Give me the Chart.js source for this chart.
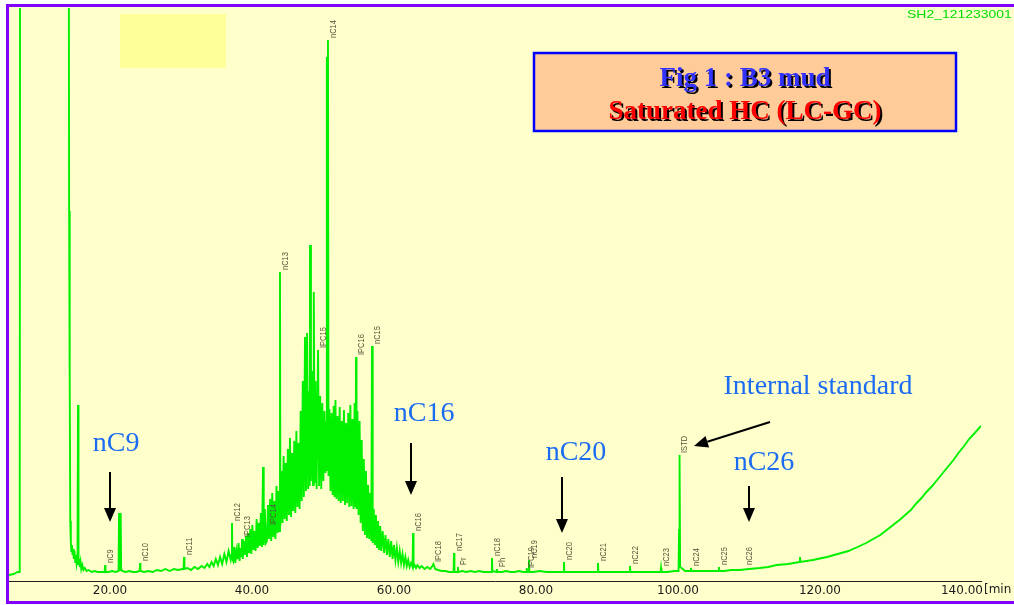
<!DOCTYPE html>
<html>
<head>
<meta charset="utf-8">
<title>Fig 1 : B3 mud - Saturated HC (LC-GC)</title>
<script src="https://cdn.jsdelivr.net/npm/chart.js@4.4.1/dist/chart.umd.min.js"></script>
<style>
  html, body { margin: 0; padding: 0; background: #fff; }
  #chromatogram { display: block; }
</style>
</head>
<body>
<canvas id="chromatogram" width="1014" height="605"></canvas>
<script>
// [retention time (min), detector response]
const solventTrace = [
    [5.77, 6], [6.4, 7], [7.0, 9], [7.28, 9], [7.33, 700], [14.18, 700], [14.24, 370], [14.32, 200],
    [14.40, 60], [14.48, 38], [14.56, 30], [14.64, 36], [14.72, 26], [14.80, 32], [14.90, 22], [15.00, 30],
    [15.10, 19], [15.20, 26], [15.30, 17], [15.42, 22], [15.49, 176], [15.56, 16], [15.65, 22], [15.75, 14],
    [15.85, 19], [15.95, 12], [16.10, 16], [16.25, 11], [16.45, 13], [16.70, 10], [17.0, 11]
];

const earlyTrace = [
    [17.4, 9], [17.8, 10], [18.3, 9], [18.8, 9], [19.24, 9], [19.30, 16], [19.36, 9], [19.8, 9],
    [20.3, 10], [20.8, 9], [21.20, 10], [21.27, 68], [21.34, 14], [21.43, 11], [21.50, 68], [21.57, 12],
    [21.70, 10], [22.2, 9], [22.7, 10], [23.2, 9], [23.7, 9], [24.17, 10], [24.23, 18], [24.29, 10],
    [24.8, 9], [25.4, 10], [26.0, 9], [26.6, 11], [27.2, 10], [27.8, 12], [28.4, 10], [29.0, 12],
    [29.6, 11], [30.2, 12], [30.36, 12], [30.42, 24], [30.48, 12], [30.9, 13], [31.4, 11], [31.9, 14],
    [32.4, 12], [32.9, 15], [33.3, 13], [33.7, 17], [34.0, 14], [34.3, 19], [34.6, 15], [34.9, 22],
    [35.2, 16], [35.5, 24], [35.8, 17], [36.1, 27], [36.4, 19], [36.7, 30], [37.0, 21], [37.12, 26],
    [37.18, 58], [37.24, 22]
];

const humpTrace = [
    [37.35, 20], [37.5, 34], [37.65, 18], [37.8, 30], [37.95, 22], [38.1, 38], [38.25, 20], [38.4, 33],
    [38.52, 24], [38.6, 42], [38.7, 22], [38.85, 40], [39.0, 26], [39.15, 45], [39.3, 24], [39.45, 48],
    [39.6, 28], [39.75, 52], [39.9, 27], [40.05, 56], [40.2, 31], [40.35, 50], [40.5, 30], [40.65, 62],
    [40.8, 33], [40.95, 58], [41.1, 35], [41.25, 68], [41.4, 34], [41.55, 114], [41.65, 36], [41.8, 72],
    [41.95, 38], [42.1, 40], [42.25, 76], [42.4, 42], [42.55, 82], [42.7, 40], [42.85, 88], [43.0, 44],
    [43.15, 80], [43.3, 42], [43.45, 95], [43.6, 48], [43.75, 90], [43.88, 50], [43.94, 309], [44.0, 55],
    [44.15, 110], [44.3, 58], [44.45, 125], [44.6, 62], [44.75, 118], [44.9, 60], [45.05, 132], [45.2, 66],
    [45.35, 143], [45.5, 64], [45.65, 128], [45.8, 70], [45.95, 140], [46.1, 68], [46.25, 150], [46.4, 74],
    [46.55, 138], [46.7, 72], [46.85, 170], [47.0, 80], [47.15, 200], [47.3, 84], [47.46, 244], [47.6, 90],
    [47.75, 248], [47.9, 92], [48.05, 190], [48.12, 95], [48.17, 336], [48.3, 100], [48.45, 210], [48.59, 96],
    [48.70, 289], [48.82, 98], [48.95, 200], [49.1, 92], [49.3, 231], [49.45, 95], [49.6, 185], [49.75, 92],
    [49.9, 178], [50.05, 100], [50.2, 170], [50.35, 108], [50.48, 160], [50.52, 110], [50.56, 524], [50.63, 200],
    [50.70, 541], [50.78, 105], [50.9, 172], [51.05, 90], [51.2, 168], [51.35, 86], [51.5, 175], [51.62, 84],
    [51.75, 181], [51.9, 82], [52.05, 165], [52.2, 80], [52.35, 174], [52.5, 78], [52.65, 160], [52.8, 80],
    [52.95, 171], [53.1, 76], [53.25, 158], [53.4, 78], [53.55, 168], [53.7, 74], [53.85, 176], [54.0, 75],
    [54.15, 162], [54.3, 72], [54.45, 178], [54.58, 74], [54.65, 224], [54.72, 72], [54.85, 170], [55.0, 66],
    [55.15, 160], [55.3, 58], [55.45, 141], [55.6, 50], [55.75, 122], [55.9, 46], [56.05, 110], [56.2, 43],
    [56.35, 96], [56.5, 42], [56.65, 88], [56.8, 40], [56.90, 235], [57.0, 38], [57.15, 72], [57.3, 36],
    [57.45, 66], [57.6, 33], [57.75, 60], [57.9, 31], [58.05, 55], [58.2, 30], [58.4, 50], [58.6, 28],
    [58.8, 46], [59.0, 26], [59.2, 42], [59.4, 24], [59.6, 40], [59.8, 22], [60.0, 36], [60.2, 21],
    [60.4, 33], [60.6, 19], [60.8, 30], [61.0, 18], [61.2, 27], [61.4, 16], [61.6, 24], [61.8, 15],
    [62.0, 21], [62.2, 14], [62.4, 18], [62.62, 14], [62.68, 48], [62.75, 14], [62.9, 16], [63.1, 13]
];

const lateTrace = [
    [63.3, 16], [63.6, 13], [63.9, 15], [64.3, 12], [64.7, 14], [65.1, 12], [65.4, 15], [65.55, 17],
    [65.8, 12], [66.2, 11], [66.7, 10], [67.2, 10], [67.8, 9], [68.39, 9], [68.45, 28], [68.51, 9],
    [68.95, 9], [69.00, 14], [69.05, 9], [69.6, 10], [70.2, 9], [70.8, 10], [71.4, 9], [72.0, 10],
    [72.6, 9], [73.2, 9], [73.74, 9], [73.80, 23], [73.86, 10], [74.45, 9], [74.50, 12], [74.55, 9],
    [75.2, 9], [75.8, 10], [76.4, 9], [77.0, 9], [77.6, 10], [78.2, 9], [78.65, 9], [78.70, 13],
    [78.75, 9], [78.95, 9], [79.01, 21], [79.07, 9], [79.6, 9], [80.5, 10], [81.5, 9], [82.5, 9],
    [83.5, 9], [83.88, 9], [83.94, 19], [84.00, 9], [85.0, 9], [86.0, 9], [87.0, 9], [88.0, 9],
    [88.67, 9], [88.73, 18], [88.79, 9], [90.0, 9], [91.0, 9], [92.0, 9], [93.18, 9], [93.24, 15],
    [93.30, 9], [94.5, 9], [95.5, 9], [96.5, 9], [97.55, 9], [97.61, 13], [97.67, 9], [98.5, 9],
    [99.5, 10], [100.08, 10], [100.15, 51], [100.22, 126], [100.30, 14], [100.5, 13], [101.0, 10], [101.77, 10],
    [101.83, 13], [101.89, 10], [103.0, 10], [104.0, 10], [105.0, 10], [105.71, 10], [105.77, 14], [105.83, 10],
    [106.5, 10], [107.5, 11], [108.7, 11], [110.0, 12], [111.5, 13], [112.7, 14], [113.9, 16], [115.5, 17],
    [117.12, 19], [117.18, 24], [117.24, 19], [119.0, 21], [121.0, 24], [122.5, 27], [124.0, 30], [125.3, 34],
    [126.5, 38], [127.5, 42], [128.5, 46], [129.4, 51], [130.3, 56], [131.2, 61], [132.0, 66], [132.8, 71],
    [133.5, 77], [134.3, 83], [135.0, 89], [135.8, 95], [136.5, 101], [137.3, 108], [138.0, 114], [138.8, 121],
    [139.5, 128], [140.3, 135], [141.0, 142], [141.8, 148], [142.68, 155]
];

const tickValues = [20, 40, 60, 80, 100, 120, 140];

// integrator peak labels
const peakNames = ['nC9', 'nC10', 'nC11', 'nC12', 'IPC13', 'IPC14', 'nC13', 'IPC15', 'nC14', 'IPC16', 'nC15',
    'nC16', 'IPC18', 'nC17', 'Pr', 'nC18', 'Ph', 'IPC19', 'nC19', 'nC20', 'nC21', 'nC22', 'nC23', 'ISTD',
    'nC24', 'nC25', 'nC26'];
const peakTimes = [19.30, 24.23, 30.42, 37.18, 38.60, 42.25, 43.94, 49.30, 50.70, 54.65, 56.90,
    62.68, 65.55, 68.45, 69.00, 73.80, 74.50, 78.70, 79.01, 83.94, 88.73, 93.24, 97.61, 100.22,
    101.83, 105.77, 109.40];
const peakTops = [16, 18, 24, 58, 42, 54, 309, 231, 541, 224, 235,
    48, 17, 28, 14, 23, 12, 11, 21, 19, 18, 15, 13, 126,
    13, 14, 14];

// hand-written notes on the slide (data coordinates)
const callouts = [
    { text: 'nC9', at: [20.85, 137], from: [20.0, 109], to: [20.0, 59] },
    { text: 'nC16', at: [64.23, 167], from: [62.39, 138], to: [62.39, 86] },
    { text: 'nC20', at: [85.63, 128], from: [83.66, 104], to: [83.66, 48] },
    { text: 'Internal standard', at: [119.72, 194], from: [112.96, 159], to: [102.25, 135] },
    { text: 'nC26', at: [112.11, 118], from: [110.0, 95], to: [110.0, 59] }
];

class ChromatogramChart {
    constructor(canvasId) {
        this.canvas = document.getElementById(canvasId);
        this.init();
    }

    init() {
        const trace = [...solventTrace, ...earlyTrace, ...humpTrace, ...lateTrace]
            .map(([x, y]) => ({ x, y }));

        new Chart(this.canvas.getContext('2d'), {
            type: 'line',
            data: {
                datasets: [{
                    data: trace,
                    borderColor: '#00f000',
                    borderWidth: 1.9,
                    pointRadius: 0,
                    tension: 0,
                    fill: false
                }]
            },
            options: {
                responsive: false,
                animation: false,
                events: [],
                layout: { padding: { left: 9, right: 33, top: 8, bottom: 0 } },
                plugins: {
                    legend: { display: false },
                    tooltip: { enabled: false }
                },
                scales: {
                    x: {
                        type: 'linear',
                        min: 5.77,
                        max: 142.68,
                        grid: { display: false, drawTicks: false },
                        border: { display: true, color: '#222', width: 1 },
                        ticks: {
                            padding: 3,
                            color: '#1a1a1a',
                            autoSkip: false,
                            maxRotation: 0,
                            font: { family: 'DejaVu Sans', size: 12 },
                            callback: value => Number(value).toFixed(2)
                        },
                        afterBuildTicks: scale => {
                            scale.ticks = tickValues.map(value => ({ value }));
                        },
                        afterFit: scale => {
                            scale.height = 24;
                        }
                    },
                    y: { display: false, min: 0, max: 573 }
                }
            },
            plugins: [this.framePlugin(), this.notesPlugin()]
        });
    }

    framePlugin() {
        return {
            id: 'frame',
            beforeDraw(chart) {
                const { ctx, width, height } = chart;
                ctx.save();
                ctx.fillStyle = '#ffffff';
                ctx.fillRect(0, 0, width, height);
                ctx.fillStyle = '#ffffcc';
                ctx.fillRect(6, 4, width - 6, height - 5);
                ctx.fillStyle = '#ffff99';
                ctx.fillRect(120, 14, 106, 54);
                ctx.restore();
            },
            afterDraw(chart) {
                const { ctx, width, height, scales } = chart;
                ctx.save();
                // unit after the last tick label
                ctx.font = '12px "DejaVu Sans"';
                ctx.fillStyle = '#1a1a1a';
                ctx.textBaseline = 'top';
                const lastX = scales.x.getPixelForValue(140);
                const half = ctx.measureText('140.00').width / 2;
                ctx.fillText('[min', lastX + half + 1, scales.x.top + 3);

                ctx.strokeStyle = '#8000ff';
                ctx.lineWidth = 3;
                ctx.strokeRect(7.5, 5.5, width + 10, height - 8);
                ctx.restore();
            }
        };
    }

    notesPlugin() {
        const self = this;
        return {
            id: 'notes',
            afterDatasetsDraw(chart) {
                const { ctx, scales: { x, y } } = chart;
                ctx.save();

                // rotated peak labels
                ctx.fillStyle = '#55553a';
                ctx.font = '7.5px "Liberation Sans"';
                ctx.textAlign = 'left';
                ctx.textBaseline = 'middle';
                peakNames.forEach((name, i) => {
                    const px = x.getPixelForValue(peakTimes[i]) + 5;
                    const py = y.getPixelForValue(peakTops[i]) - 2;
                    ctx.save();
                    ctx.translate(px, py);
                    ctx.scale(1.3, 1);
                    ctx.rotate(-Math.PI / 2);
                    ctx.fillText(name, 0, 0);
                    ctx.restore();
                });

                // blue notes with arrows
                callouts.forEach(c => {
                    ctx.fillStyle = '#1c6cf2';
                    ctx.font = '28px "Liberation Serif"';
                    ctx.textAlign = 'center';
                    ctx.textBaseline = 'middle';
                    ctx.fillText(c.text, x.getPixelForValue(c.at[0]), y.getPixelForValue(c.at[1]));
                    self.drawArrow(ctx,
                        x.getPixelForValue(c.from[0]), y.getPixelForValue(c.from[1]),
                        x.getPixelForValue(c.to[0]), y.getPixelForValue(c.to[1]));
                });

                // title box
                ctx.fillStyle = '#ffcc99';
                ctx.fillRect(533, 52, 424, 80);
                ctx.strokeStyle = '#0000ff';
                ctx.lineWidth = 2.5;
                ctx.strokeRect(534, 53, 422, 78);
                ctx.font = 'bold 27px "Liberation Serif"';
                ctx.textAlign = 'center';
                ctx.textBaseline = 'alphabetic';
                self.shadowText(ctx, 'Fig 1 : B3 mud', 745, 86, '#3333ff');
                self.shadowText(ctx, 'Saturated HC (LC-GC)', 745, 119, '#ff0000');

                // file name
                ctx.save();
                ctx.font = '11px "Liberation Sans"';
                ctx.fillStyle = '#00dd00';
                ctx.textAlign = 'left';
                ctx.translate(907, 18);
                ctx.scale(1.27, 1);
                ctx.fillText('SH2_121233001', 0, 0);
                ctx.restore();

                ctx.restore();
            }
        };
    }

    shadowText(ctx, text, cx, cy, color) {
        ctx.fillStyle = '#000000';
        ctx.fillText(text, cx + 2, cy + 2);
        ctx.fillStyle = color;
        ctx.fillText(text, cx, cy);
    }

    drawArrow(ctx, x0, y0, x1, y1) {
        const ang = Math.atan2(y1 - y0, x1 - x0);
        const head = 14;
        const half = 6;
        const bx = x1 - head * Math.cos(ang);
        const by = y1 - head * Math.sin(ang);
        ctx.strokeStyle = '#000000';
        ctx.fillStyle = '#000000';
        ctx.lineWidth = 2;
        ctx.beginPath();
        ctx.moveTo(x0, y0);
        ctx.lineTo(bx, by);
        ctx.stroke();
        ctx.beginPath();
        ctx.moveTo(x1, y1);
        ctx.lineTo(bx + half * Math.sin(ang), by - half * Math.cos(ang));
        ctx.lineTo(bx - half * Math.sin(ang), by + half * Math.cos(ang));
        ctx.closePath();
        ctx.fill();
    }
}

document.addEventListener('DOMContentLoaded', function() {
    new ChromatogramChart('chromatogram');
});
</script>
</body>
</html>
